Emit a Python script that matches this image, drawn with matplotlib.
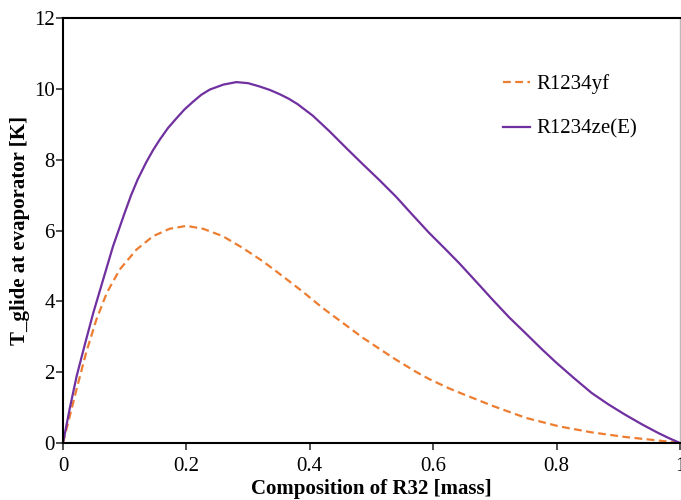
import matplotlib
matplotlib.use("Agg")
import matplotlib.pyplot as plt

x_ze = [0.0, 0.011, 0.022, 0.036, 0.049, 0.065, 0.081, 0.100, 0.110, 0.121, 0.135, 0.146, 0.157, 0.170,
        0.184, 0.197, 0.211, 0.224, 0.238, 0.260, 0.281, 0.300, 0.318, 0.335, 0.351, 0.366, 0.380, 0.405,
        0.432, 0.459, 0.486, 0.513, 0.540, 0.566, 0.593, 0.620, 0.642, 0.671, 0.696, 0.723, 0.752,
        0.776, 0.800, 0.829, 0.857, 0.884, 0.911, 0.938, 0.965, 0.983, 1.0]
y_ze = [0.0, 0.98, 1.88, 2.82, 3.67, 4.61, 5.55, 6.50, 6.98, 7.44, 7.93, 8.27, 8.57, 8.89,
        9.17, 9.42, 9.64, 9.83, 9.98, 10.12, 10.19, 10.16, 10.07, 9.97, 9.85, 9.72, 9.57, 9.24,
        8.80, 8.33, 7.87, 7.42, 6.95, 6.45, 5.94, 5.47, 5.08, 4.53, 4.05, 3.55, 3.06,
        2.65, 2.26, 1.82, 1.41, 1.09, 0.80, 0.53, 0.28, 0.13, 0.0]

x_yf = [0.0, 0.0055, 0.011, 0.022, 0.038, 0.054, 0.071, 0.092, 0.119, 0.146, 0.173, 0.200, 0.227,
        0.259, 0.291, 0.324, 0.356, 0.388, 0.421, 0.459, 0.486, 0.518, 0.539, 0.572, 0.593, 0.626,
        0.647, 0.696, 0.750, 0.804, 0.857, 0.911, 0.965, 1.0]
y_yf = [0.0, 0.38, 0.76, 1.52, 2.58, 3.48, 4.24, 4.90, 5.46, 5.84, 6.05, 6.13, 6.05,
        5.84, 5.51, 5.13, 4.71, 4.28, 3.81, 3.32, 2.97, 2.60, 2.36, 2.01, 1.81, 1.54,
        1.39, 1.05, 0.71, 0.47, 0.30, 0.17, 0.07, 0.0]

xticks = [0, 0.2, 0.4, 0.6, 0.8, 1]
xtick_labels = ["0", "0.2", "0.4", "0.6", "0.8", "1"]
yticks = [0, 2, 4, 6, 8, 10, 12]

plt.rcParams['font.family'] = ['Liberation Serif', 'DejaVu Serif']

fig = plt.figure(figsize=(6.81, 5.00), dpi=100)
ax = fig.add_axes([63/681, 57/500, 617/681, 425/500])

ax.plot(x_yf, y_yf, color='#ED7D31', lw=1.6, ls=(0, (3.5, 2)), label='R1234yf')
ax.plot(x_ze, y_ze, color='#7030A0', lw=1.6, label='R1234ze(E)')

ax.set_xlim(0, 1)
ax.set_ylim(0, 12)
ax.set_xticks(xticks)
ax.set_xticklabels(xtick_labels)
ax.set_yticks(yticks)
ax.tick_params(axis='both', labelsize=15, direction='out', length=5, width=1.2, color='#333333')
ax.tick_params(axis='x', pad=5)
ax.tick_params(axis='y', pad=1)

for s in ['left', 'bottom', 'top']:
    ax.spines[s].set_linewidth(1.5)
    ax.spines[s].set_color('black')
ax.spines['right'].set_color('#bbbbbb')
ax.spines['right'].set_linewidth(1.0)

ax.set_xlabel('Composition of R32 [mass]', fontsize=15, fontweight='bold', labelpad=2.5)
ax.set_ylabel('T_glide at evaporator [K]', fontsize=15, fontweight='bold', labelpad=3)

ax.legend(loc='upper left', bbox_to_anchor=(495/681, 1 - 66/500), bbox_transform=fig.transFigure,
          borderaxespad=0, frameon=False, fontsize=15,
          handlelength=1.3, handletextpad=0.3, labelspacing=1.2)

fig.savefig('out.png', dpi=100)
